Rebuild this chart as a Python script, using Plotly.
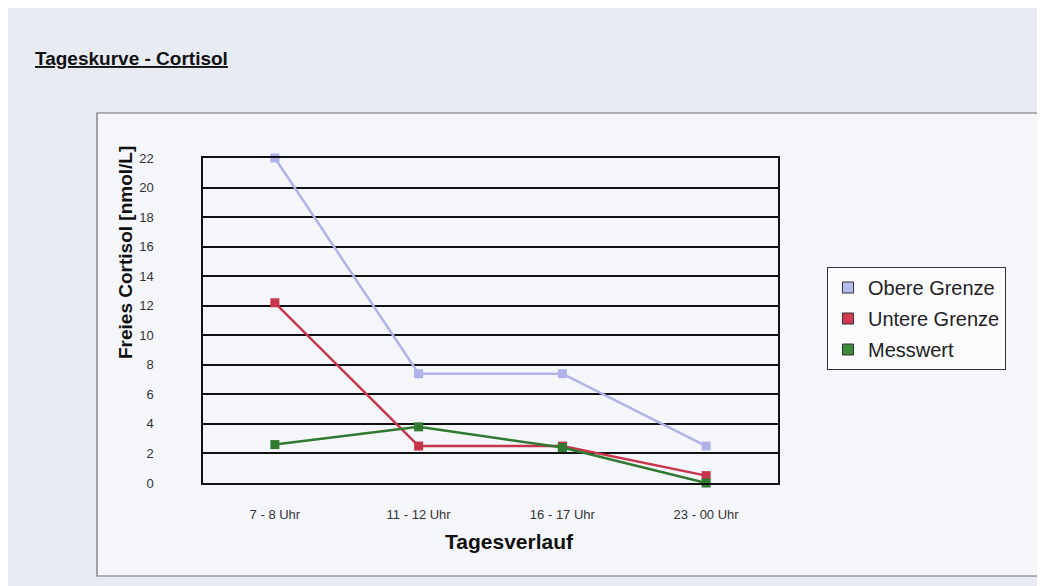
import plotly.graph_objects as go

categories = ["7 - 8 Uhr", "11 - 12 Uhr", "16 - 17 Uhr", "23 - 00 Uhr"]
obere_grenze = [22, 7.4, 7.4, 2.5]
untere_grenze = [12.2, 2.5, 2.5, 0.5]
messwert = [2.6, 3.8, 2.4, 0]
series_names = ["Obere Grenze", "Untere Grenze", "Messwert"]
series_values = [obere_grenze, untere_grenze, messwert]
series_colors = ["#b0b2ea", "#c8344c", "#2f7a30"]
legend_colors = ["#b8bcf0", "#d23a52", "#3a8a3a"]
y_ticks = list(range(0, 23, 2))

OFF = 8  # page body margin
W, H = 1045 - OFF, 586 - OFF
L, R, T, B = 203 - OFF, 778 - OFF, 158 - OFF, 483 - OFF


def px(x):
    return (x - OFF - L) / (R - L)


def py(y):
    return (B - (y - OFF)) / (B - T)


fig = go.Figure()
for name, vals, col in zip(series_names, series_values, series_colors):
    fig.add_trace(go.Scatter(
        x=categories, y=vals, mode="lines+markers", name=name,
        line=dict(color=col, width=2.5),
        marker=dict(symbol="square", size=9, color=col),
        showlegend=False, cliponaxis=False,
    ))
for i, (name, col) in enumerate(zip(series_names, legend_colors)):
    fig.add_trace(go.Scatter(
        x=[None], y=[None], mode="markers", name=name,
        marker=dict(symbol="square", size=11, color=col, line=dict(color="#333", width=1)),
        legendgroup=f"g{i}", showlegend=True,
    ))

fig.update_layout(
    width=W, height=H,
    margin=dict(l=L, r=W - R, t=T, b=H - B, autoexpand=False),
    paper_bgcolor="#e9ebf3",
    plot_bgcolor="#ffffff",
    font=dict(family="Liberation Sans, Arial, sans-serif", color="#222"),
    showlegend=True,
    legend=dict(
        x=px(827), y=py(267), xanchor="left", yanchor="top",
        bgcolor="#fbfbfd", bordercolor="#333", borderwidth=1,
        font=dict(size=20, color="#222"), tracegroupgap=2,
        itemwidth=30,
    ),
    xaxis=dict(
        type="category", categoryorder="array", categoryarray=categories,
        range=[-0.5, 3.5], showgrid=False, zeroline=False,
        showline=True, linecolor="#111", linewidth=1.5, mirror=True,
        ticks="", tickfont=dict(size=13, color="#333"), ticklabelstandoff=19,
    ),
    yaxis=dict(
        range=[0, 22], tickvals=y_ticks, showgrid=True, gridcolor="#111", gridwidth=1.6,
        zeroline=False, showline=True, linecolor="#111", linewidth=1.5, mirror=True,
        ticks="", tickfont=dict(size=13, color="#333"), ticklabelstandoff=45,
    ),
    shapes=[
        dict(type="rect", xref="paper", yref="paper",
             x0=px(97), x1=px(1070), y0=py(576), y1=py(113),
             line=dict(color="#707070", width=1.2), fillcolor="#f5f6fa", layer="below"),
    ],
    annotations=[
        dict(text="<b><u>Tageskurve - Cortisol</u></b>", xref="paper", yref="paper",
             x=px(33), y=py(58), xanchor="left", yanchor="middle",
             showarrow=False, font=dict(size=19, color="#111")),
        dict(text="<b>Freies Cortisol [nmol/L]</b>", xref="paper", yref="paper",
             x=px(125), y=py(253), xanchor="center", yanchor="middle",
             textangle=-90, showarrow=False, font=dict(size=19, color="#111")),
        dict(text="<b>Tagesverlauf</b>", xref="paper", yref="paper",
             x=px(509), y=py(541), xanchor="center", yanchor="middle",
             showarrow=False, font=dict(size=21, color="#111")),
    ],
)

fig.write_html("out.html")
